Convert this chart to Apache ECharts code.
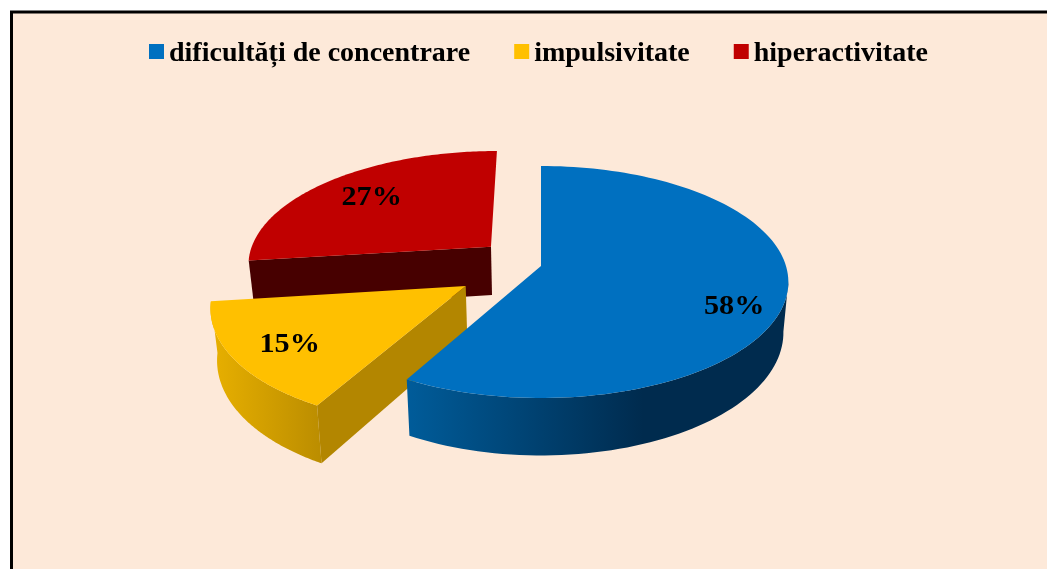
<!DOCTYPE html>
<html>
<head>
<meta charset="utf-8">
<style>html,body{margin:0;padding:0;background:#fff;overflow:hidden}#c{width:1047px;height:569px}</style>
<script src="https://cdn.jsdelivr.net/npm/echarts@6/dist/echarts.min.js"></script>
</head>
<body>
<div id="c"></div>
<script>
// Data
const categories = ['dificultăți de concentrare', 'impulsivitate', 'hiperactivitate'];
const values = [58, 15, 27];
// Colours
const topColors = ['#0070c0', '#ffc000', '#c00000'];
const cutColors = [null, '#b38600', '#470000'];
const wallStops = [
  [[0, '#005c9a'], [0.62, '#002b4e'], [1, '#002b4e']],
  [[0, '#e8b000'], [1, '#bb8d00']],
  [[0, '#600000'], [1, '#600000']]
];
// Exploded offset of every slice on the pie's ground plane (unit = radius)
const explodeX = [0, -0.300, -0.209];
const explodeY = [0, 0.172, -0.174];
const labelRadius = [0.8, 0.78, 0.7];
const labelNudgeX = [-2, 1.5, -4];
const labelNudgeY = [17, 3, -2];
const drawOrder = [3, 2, 1];
// Perspective layout
const originX = 541, originY = 266, radiusX = 245, radiusY = 113.8, persp = 0.138, depth = 49.5, bottomShrink = 0.98;

const total = values.reduce((a, b) => a + b, 0);
function project(i, theta, r) {
  const X = explodeX[i] + r * Math.sin(theta);
  const Y = explodeY[i] - r * Math.cos(theta);
  const s = 1 / (1 - persp * Y);
  return { x: originX + radiusX * X * s, y: originY + radiusY * Y * s, s: s };
}
const lower = p => [originX + (p.x - originX) * bottomShrink, p.y + depth * p.s];
const upper = p => [p.x, p.y];
function rightmost(points) {
  let best = 0;
  points.forEach((p, k) => { if (p[0] > points[best][0]) best = k; });
  return best;
}

function sliceRenderer(i) {
  return function (params, api) {
    const value = api.value(0);
    let before = 0;
    for (let k = 0; k < i; k++) before += values[k];
    const a0 = before / total * 2 * Math.PI;
    const a1 = (before + value) / total * 2 * Math.PI;
    const arc = [];
    const n = 120;
    for (let k = 0; k <= n; k++) arc.push(project(i, a0 + (a1 - a0) * k / n, 1));
    const apex = project(i, 0, 0);
    const children = [];
    // outer wall: only the part that faces the viewer, from the right silhouette onward
    const up = arc.map(upper), low = arc.map(lower);
    const iu = rightmost(up), il = rightmost(low);
    if (iu < n) {
      children.push({
        type: 'polygon',
        shape: { points: up.slice(iu).concat(low.slice(il).reverse()) },
        style: { fill: new echarts.graphic.LinearGradient(0, 0, 1, 0, wallStops[i].map(s => ({ offset: s[0], color: s[1] }))) }
      });
    }
    // visible cut face (runs along the slice's starting edge)
    if (cutColors[i]) {
      children.push({
        type: 'polygon',
        shape: { points: [upper(apex), up[0], low[0], lower(apex)] },
        style: { fill: cutColors[i] }
      });
    }
    // top face
    children.push({
      type: 'polygon',
      shape: { points: [upper(apex)].concat(up) },
      style: { fill: topColors[i] }
    });
    // percentage label
    const mid = (a0 + a1) / 2;
    const lp = project(i, mid, labelRadius[i]);
    children.push({
      type: 'text',
      x: lp.x + labelNudgeX[i], y: lp.y + labelNudgeY[i], scaleX: 1.08,
      style: {
        x: 0, y: 0, text: value + '%',
        fill: '#000', align: 'center', verticalAlign: 'middle',
        font: 'bold 28px "Liberation Serif"'
      }
    });
    return { type: 'group', children: children };
  };
}

const legendText = { fontFamily: 'Liberation Serif', fontWeight: 'bold', fontSize: 28, color: '#000' };
const chart = echarts.init(document.getElementById('c'), null, { renderer: 'canvas' });
chart.setOption({
  animation: false,
  backgroundColor: 'transparent',
  graphic: [{
    type: 'rect', z: -10, silent: true,
    shape: { x: 11.5, y: 12, width: 1060, height: 580 },
    style: { fill: '#fde9d9', stroke: '#000', lineWidth: 3 }
  }],
  legend: {
    left: 144, top: 35, icon: 'rect', itemWidth: 15, itemHeight: 15, itemGap: 44,
    data: categories,
    formatter: '{a|{name}}',
    textStyle: Object.assign({}, legendText, { rich: { a: Object.assign({}, legendText, { padding: [5, 0, 0, 0] }) } })
  },
  series: categories.map((name, i) => ({
    type: 'custom',
    name: name,
    coordinateSystem: 'none',
    z: drawOrder[i],
    silent: true,
    itemStyle: { color: topColors[i] },
    renderItem: sliceRenderer(i),
    data: [[values[i]]]
  }))
});
</script>
</body>
</html>
